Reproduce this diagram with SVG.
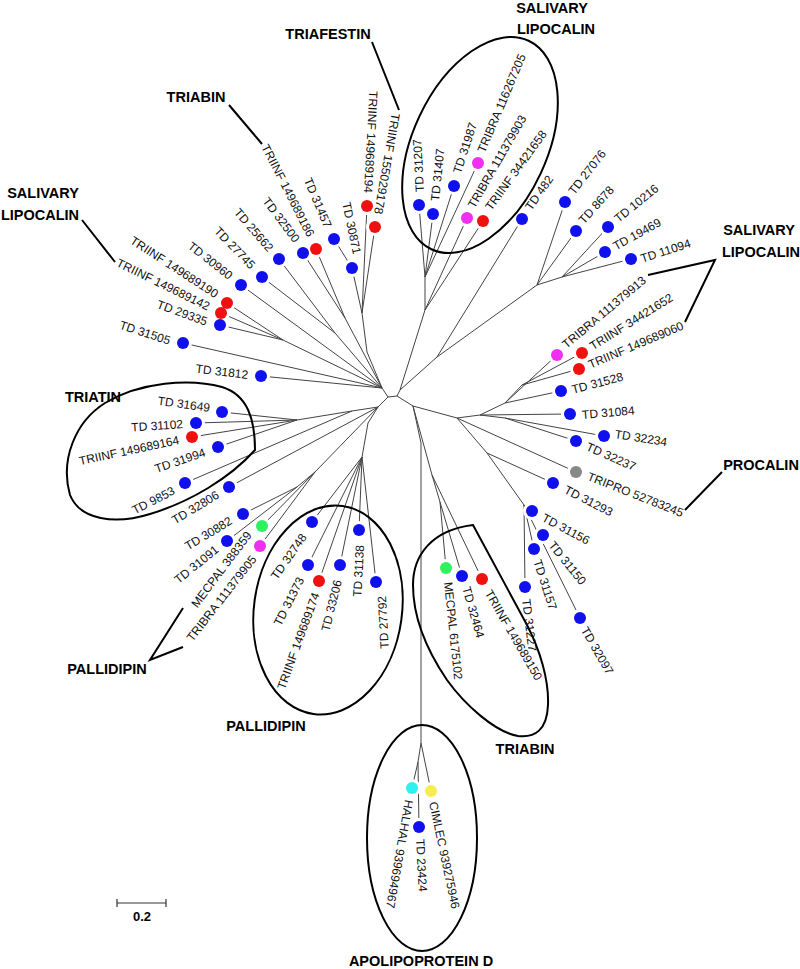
<svg xmlns="http://www.w3.org/2000/svg" width="800" height="969" viewBox="0 0 800 969">
<style>
.br{stroke:#444;stroke-width:1;fill:none;stroke-linejoin:round}
.ann{stroke:#000;stroke-width:2;fill:none}
.lb{font-family:"Liberation Sans",Arial,sans-serif;font-size:12px;fill:#111;dominant-baseline:central}
.e{text-anchor:end}
.t{font-family:"Liberation Sans",Arial,sans-serif;font-size:14.5px;font-weight:bold;fill:#000;text-anchor:middle;dominant-baseline:central}
.bl{fill:#1010ee}.rd{fill:#f01010}.mg{fill:#f030f0}.gr{fill:#30f060}.cy{fill:#30f0f0}.ye{fill:#f5ee50}.gy{fill:#888}
.halo{fill:#fff}
</style>
<rect width="800" height="969" fill="#fff"/>
<g id="connectors">
<path class="br" d="M382,388 L388,397 L397,396 L400,390 M397,396 L413,406 M388,397 L378,407
M382,388 L367,352 L362,313 L367,206 M362,313 L375,227 M362,313 L352,268 L334,239
M382,388 L345,318 L316,249 M345,318 L303,253
M382,388 L335,333 L279,259 M335,333 L262,277
M382,388 L241,285
M382,388 L283,340 L227,303 M283,340 L221,313 M283,340 L220,325
M382,388 L183,343 M382,388 L261,376
M400,390 L425,310 L425,277 L419,205 M425,277 L433,214 M425,277 L454,186 M425,277 L478,163 M425,310 L467,218 M425,310 L483,221
M400,390 L437,357 L522,219 M437,357 L537,285 L565,202 M537,285 L576,231 M537,285 L562,277 L608,227 M562,277 L605,252 M562,277 L631,259
M413,406 L457,418 L480,415 L570,414 M480,415 L505,403 L557,355 M505,403 L522,385 L582,353 M522,385 L579,369 M505,403 L561,391 M480,415 L505,418 L604,436 M505,418 L576,441 M457,418 L576,472 M457,418 L487,453 L553,483 M487,453 L524,505 L532,511 M524,505 L580,618 M524,505 L534,549 M524,505 L525,587
M413,406 L432,475 L440,502 L446,568 M440,502 L462,576 M432,475 L482,579
M413,406 L421,443 L421,743 L418,762 L412,788 M418,762 L419,827 M421,743 L431,791
M378,407 L352,411 L297,420 L222,412 M297,420 L196,423 M297,420 L192,437 M297,420 L218,447 M352,411 L185,483
M378,407 L229,487
M378,407 L315,472 L297,487 L243,514 M297,487 L227,541 M315,472 L262,526 M315,472 L260,546
M378,407 L368,423 L362,457 L312,522 M362,457 L308,565 M362,457 L319,581 M362,457 L340,565 M362,457 L359,530 M362,457 L376,582"/>
</g>
<g id="gaps" class="halo">
<circle cx="367" cy="206" r="9"/><circle cx="375" cy="227" r="9"/><circle cx="352" cy="268" r="9"/><circle cx="334" cy="239" r="9"/><circle cx="316" cy="249" r="9"/><circle cx="303" cy="253" r="9"/><circle cx="279" cy="259" r="9"/><circle cx="262" cy="277" r="9"/><circle cx="241" cy="285" r="9"/><circle cx="227" cy="303" r="9"/><circle cx="221" cy="313" r="9"/><circle cx="220" cy="325" r="9"/><circle cx="183" cy="343" r="9"/><circle cx="261" cy="376" r="9"/>
<circle cx="222" cy="412" r="9"/><circle cx="196" cy="423" r="9"/><circle cx="192" cy="437" r="9"/><circle cx="218" cy="447" r="9"/><circle cx="185" cy="483" r="9"/><circle cx="229" cy="487" r="9"/><circle cx="243" cy="514" r="9"/><circle cx="262" cy="526" r="9"/><circle cx="227" cy="541" r="9"/><circle cx="260" cy="546" r="9"/>
<circle cx="312" cy="522" r="9"/><circle cx="308" cy="565" r="9"/><circle cx="319" cy="581" r="9"/><circle cx="340" cy="565" r="9"/><circle cx="359" cy="530" r="9"/><circle cx="376" cy="582" r="9"/>
<circle cx="446" cy="568" r="9"/><circle cx="462" cy="576" r="9"/><circle cx="482" cy="579" r="9"/><circle cx="534" cy="549" r="9"/><circle cx="525" cy="587" r="9"/><circle cx="532" cy="511" r="9"/><circle cx="543" cy="535" r="9"/><circle cx="580" cy="618" r="9"/>
<circle cx="412" cy="788" r="9"/><circle cx="419" cy="827" r="9"/><circle cx="431" cy="791" r="9"/>
<circle cx="576" cy="472" r="9"/><circle cx="553" cy="483" r="9"/><circle cx="576" cy="441" r="9"/><circle cx="604" cy="436" r="9"/><circle cx="570" cy="414" r="9"/><circle cx="561" cy="391" r="9"/><circle cx="579" cy="369" r="9"/><circle cx="582" cy="353" r="9"/><circle cx="557" cy="355" r="9"/>
<circle cx="631" cy="259" r="9"/><circle cx="605" cy="252" r="9"/><circle cx="608" cy="227" r="9"/><circle cx="576" cy="231" r="9"/><circle cx="565" cy="202" r="9"/><circle cx="522" cy="219" r="9"/><circle cx="483" cy="221" r="9"/><circle cx="467" cy="218" r="9"/><circle cx="478" cy="163" r="9"/><circle cx="454" cy="186" r="9"/><circle cx="433" cy="214" r="9"/><circle cx="419" cy="205" r="9"/>
</g>
<g id="annotations">
<ellipse class="ann" cx="480" cy="145" rx="67" ry="115" transform="rotate(25 480 145)"/>
<ellipse class="ann" cx="328" cy="610" rx="74" ry="105" transform="rotate(8 328 610)"/>
<ellipse class="ann" cx="422" cy="838" rx="55" ry="113"/>
<path class="ann" d="M255,450 C255,420 248,395 222,387 C190,378 140,382 105,403 C75,422 60,460 70,495 C80,520 115,525 150,514 C190,502 230,478 255,450 Z"/>
<path class="ann" d="M473,525 L527,625 C540,650 549,680 548,705 C547,730 535,738 518,736 C495,732 465,705 447,680 C428,652 413,620 413,585 C413,555 432,530 473,525 Z"/>
<path class="ann" d="M372,42 L399,110 M229,105 L262,144 M82,220 L115,262 M648,275 L715,260 L685,322 M722,472 L685,510 M183,608 L150,660 L183,647"/>
</g>
<g id="n_triinf149689194"><circle class="rd" cx="367" cy="206" r="6"/><text class="lb e" transform="translate(368,193) rotate(93)">TRIINF 149689194</text></g>
<g id="n_triinf155029178"><circle class="rd" cx="375" cy="227" r="6"/><text class="lb e" transform="translate(378,214) rotate(100)">TRIINF 155029178</text></g>
<g id="n_td30871"><circle class="bl" cx="352" cy="268" r="6"/><text class="lb e" transform="translate(357,254) rotate(78)">TD 30871</text></g>
<g id="n_td31457"><circle class="bl" cx="334" cy="239" r="6"/><text class="lb e" transform="translate(328,227) rotate(67)">TD 31457</text></g>
<g id="n_triinf149689186"><circle class="rd" cx="316" cy="249" r="6"/><text class="lb e" transform="translate(311,236) rotate(63)">TRIINF 149689186</text></g>
<g id="n_td32500"><circle class="bl" cx="303" cy="253" r="6"/><text class="lb e" transform="translate(297,241) rotate(53)">TD 32500</text></g>
<g id="n_td25662"><circle class="bl" cx="279" cy="259" r="6"/><text class="lb e" transform="translate(271,250) rotate(49)">TD 25662</text></g>
<g id="n_td27745"><circle class="bl" cx="262" cy="277" r="6"/><text class="lb e" transform="translate(253,267) rotate(46)">TD 27745</text></g>
<g id="n_td30960"><circle class="bl" cx="241" cy="285" r="6"/><text class="lb e" transform="translate(231,277) rotate(38)">TD 30960</text></g>
<g id="n_triinf149689190"><circle class="rd" cx="227" cy="303" r="6"/><text class="lb e" transform="translate(217,295) rotate(33)">TRIINF 149689190</text></g>
<g id="n_triinf149689142"><circle class="rd" cx="221" cy="313" r="6"/><text class="lb e" transform="translate(209,307) rotate(26)">TRIINF 149689142</text></g>
<g id="n_td29335"><circle class="bl" cx="220" cy="325" r="6"/><text class="lb e" transform="translate(207,322) rotate(20)">TD 29335</text></g>
<g id="n_td31505"><circle class="bl" cx="183" cy="343" r="6"/><text class="lb e" transform="translate(170,341) rotate(18)">TD 31505</text></g>
<g id="n_td31812"><circle class="bl" cx="261" cy="376" r="6"/><text class="lb e" transform="translate(248,375) rotate(7)">TD 31812</text></g>
<g id="n_td31649"><circle class="bl" cx="222" cy="412" r="6"/><text class="lb e" transform="translate(210,408) rotate(8)">TD 31649</text></g>
<g id="n_td31102"><circle class="bl" cx="196" cy="423" r="6"/><text class="lb e" transform="translate(183,424) rotate(-4)">TD 31102</text></g>
<g id="n_triinf149689164"><circle class="rd" cx="192" cy="437" r="6"/><text class="lb e" transform="translate(179,440) rotate(-12)">TRIINF 149689164</text></g>
<g id="n_td31994"><circle class="bl" cx="218" cy="447" r="6"/><text class="lb e" transform="translate(205,452) rotate(-19)">TD 31994</text></g>
<g id="n_td9853"><circle class="bl" cx="185" cy="483" r="6"/><text class="lb e" transform="translate(174,490) rotate(-27)">TD 9853</text></g>
<g id="n_td32806"><circle class="bl" cx="229" cy="487" r="6"/><text class="lb e" transform="translate(218,494) rotate(-31)">TD 32806</text></g>
<g id="n_td30882"><circle class="bl" cx="243" cy="514" r="6"/><text class="lb e" transform="translate(231,520) rotate(-31)">TD 30882</text></g>
<g id="n_mecpal388359"><circle class="gr" cx="262" cy="526" r="6"/><text class="lb e" transform="translate(249,533) rotate(-53)">MECPAL 388359</text></g>
<g id="n_td31091"><circle class="bl" cx="227" cy="541" r="6"/><text class="lb e" transform="translate(217,548) rotate(-39)">TD 31091</text></g>
<g id="n_tribra111379905"><circle class="mg" cx="260" cy="546" r="6"/><text class="lb e" transform="translate(254,557) rotate(-52)">TRIBRA 111379905</text></g>
<g id="n_td32748"><circle class="bl" cx="312" cy="522" r="6"/><text class="lb e" transform="translate(304,535) rotate(-55)">TD 32748</text></g>
<g id="n_td31373"><circle class="bl" cx="308" cy="565" r="6"/><text class="lb e" transform="translate(301,578) rotate(-63)">TD 31373</text></g>
<g id="n_triinf149689174"><circle class="rd" cx="319" cy="581" r="6"/><text class="lb e" transform="translate(316,593) rotate(-70)">TRIINF 149689174</text></g>
<g id="n_td33206"><circle class="bl" cx="340" cy="565" r="6"/><text class="lb e" transform="translate(338,580) rotate(-76)">TD 33206</text></g>
<g id="n_td31138"><circle class="bl" cx="359" cy="530" r="6"/><text class="lb e" transform="translate(360,545) rotate(-87)">TD 31138</text></g>
<g id="n_td27792"><circle class="bl" cx="376" cy="582" r="6"/><text class="lb e" transform="translate(382,596) rotate(-93)">TD 27792</text></g>
<g id="n_mecpal6175102"><circle class="gr" cx="446" cy="568" r="6"/><text class="lb" transform="translate(448,582) rotate(84)">MECPAL 6175102</text></g>
<g id="n_td32464"><circle class="bl" cx="462" cy="576" r="6"/><text class="lb" transform="translate(466,587) rotate(74)">TD 32464</text></g>
<g id="n_triinf149689150"><circle class="rd" cx="482" cy="579" r="6"/><text class="lb" transform="translate(488,591) rotate(60)">TRIINF 149689150</text></g>
<g id="n_td31157"><circle class="bl" cx="534" cy="549" r="6"/><text class="lb" transform="translate(537,560) rotate(72)">TD 31157</text></g>
<g id="n_td31227"><circle class="bl" cx="525" cy="587" r="6"/><text class="lb" transform="translate(526,599) rotate(83)">TD 31227</text></g>
<g id="n_td31156"><circle class="bl" cx="532" cy="511" r="6"/><text class="lb" transform="translate(543,517) rotate(28)">TD 31156</text></g>
<g id="n_td31150"><circle class="bl" cx="543" cy="535" r="6"/><text class="lb" transform="translate(551,543) rotate(51)">TD 31150</text></g>
<g id="n_td32097"><circle class="bl" cx="580" cy="618" r="6"/><text class="lb" transform="translate(584,628) rotate(60)">TD 32097</text></g>
<g id="n_halhal939694967"><circle class="cy" cx="412" cy="788" r="6"/><text class="lb" transform="translate(409,800) rotate(100)">HALHAL 939694967</text></g>
<g id="n_td23424"><circle class="bl" cx="419" cy="827" r="6"/><text class="lb" transform="translate(420,839) rotate(87)">TD 23424</text></g>
<g id="n_cimlec939275946"><circle class="ye" cx="431" cy="791" r="6"/><text class="lb" transform="translate(433,802) rotate(78)">CIMLEC 939275946</text></g>
<g id="n_tripro52783245"><circle class="gy" cx="576" cy="472" r="6"/><text class="lb" transform="translate(588,476) rotate(21.5)">TRIPRO 52783245</text></g>
<g id="n_td31293"><circle class="bl" cx="553" cy="483" r="6"/><text class="lb" transform="translate(565,489) rotate(27)">TD 31293</text></g>
<g id="n_td32237"><circle class="bl" cx="576" cy="441" r="6"/><text class="lb" transform="translate(587,446) rotate(24)">TD 32237</text></g>
<g id="n_td32234"><circle class="bl" cx="604" cy="436" r="6"/><text class="lb" transform="translate(615,434) rotate(9)">TD 32234</text></g>
<g id="n_td31084"><circle class="bl" cx="570" cy="414" r="6"/><text class="lb" transform="translate(582,415) rotate(-5)">TD 31084</text></g>
<g id="n_td31528"><circle class="bl" cx="561" cy="391" r="6"/><text class="lb" transform="translate(572,390) rotate(-15)">TD 31528</text></g>
<g id="n_triinf149689060"><circle class="rd" cx="579" cy="369" r="6"/><text class="lb" transform="translate(589,365) rotate(-23)">TRIINF 149689060</text></g>
<g id="n_triinf34421652"><circle class="rd" cx="582" cy="353" r="6"/><text class="lb" transform="translate(591,347) rotate(-32)">TRIINF 34421652</text></g>
<g id="n_tribra111379913"><circle class="mg" cx="557" cy="355" r="6"/><text class="lb" transform="translate(564,346) rotate(-40)">TRIBRA 111379913</text></g>
<g id="n_td11094"><circle class="bl" cx="631" cy="259" r="6"/><text class="lb" transform="translate(641,259) rotate(-18)">TD 11094</text></g>
<g id="n_td19469"><circle class="bl" cx="605" cy="252" r="6"/><text class="lb" transform="translate(614,247) rotate(-29)">TD 19469</text></g>
<g id="n_td10216"><circle class="bl" cx="608" cy="227" r="6"/><text class="lb" transform="translate(616,220) rotate(-39)">TD 10216</text></g>
<g id="n_td8678"><circle class="bl" cx="576" cy="231" r="6"/><text class="lb" transform="translate(581,222) rotate(-48)">TD 8678</text></g>
<g id="n_td27076"><circle class="bl" cx="565" cy="202" r="6"/><text class="lb" transform="translate(571,193) rotate(-52)">TD 27076</text></g>
<g id="n_td482"><circle class="bl" cx="522" cy="219" r="6"/><text class="lb" transform="translate(528,209) rotate(-55)">TD 482</text></g>
<g id="n_triinf34421658"><circle class="rd" cx="483" cy="221" r="6"/><text class="lb" transform="translate(488,209) rotate(-54)">TRIINF 34421658</text></g>
<g id="n_tribra111379903"><circle class="mg" cx="467" cy="218" r="6"/><text class="lb" transform="translate(471,207) rotate(-60)">TRIBRA 111379903</text></g>
<g id="n_tribra116267205"><circle class="mg" cx="478" cy="163" r="6"/><text class="lb" transform="translate(481,152) rotate(-67)">TRIBRA 116267205</text></g>
<g id="n_td31987"><circle class="bl" cx="454" cy="186" r="6"/><text class="lb" transform="translate(457,173) rotate(-72)">TD 31987</text></g>
<g id="n_td31407"><circle class="bl" cx="433" cy="214" r="6"/><text class="lb" transform="translate(435,201) rotate(-84)">TD 31407</text></g>
<g id="n_td31207"><circle class="bl" cx="419" cy="205" r="6"/><text class="lb" transform="translate(420,192) rotate(-93)">TD 31207</text></g>
<g id="titles">
<text class="t" x="328" y="34">TRIAFESTIN</text>
<text class="t" x="196" y="97">TRIABIN</text>
<text class="t" x="43" y="193">SALIVARY</text>
<text class="t" x="40" y="215">LIPOCALIN</text>
<text class="t" x="552" y="8">SALIVARY</text>
<text class="t" x="556" y="29">LIPOCALIN</text>
<text class="t" x="759" y="230">SALIVARY</text>
<text class="t" x="761" y="252">LIPOCALIN</text>
<text class="t" x="761" y="465">PROCALIN</text>
<text class="t" x="93" y="397">TRIATIN</text>
<text class="t" x="107" y="669">PALLIDIPIN</text>
<text class="t" x="266" y="726">PALLIDIPIN</text>
<text class="t" x="525" y="749">TRIABIN</text>
<text class="t" x="421" y="961">APOLIPOPROTEIN D</text>
</g>
<g id="scalebar">
<path d="M117,903 L166,903 M117,899 L117,907 M166,899 L166,907" stroke="#333" stroke-width="1.2" fill="none"/>
<text class="t" x="142" y="916" style="font-size:13px">0.2</text>
</g>
</svg>
